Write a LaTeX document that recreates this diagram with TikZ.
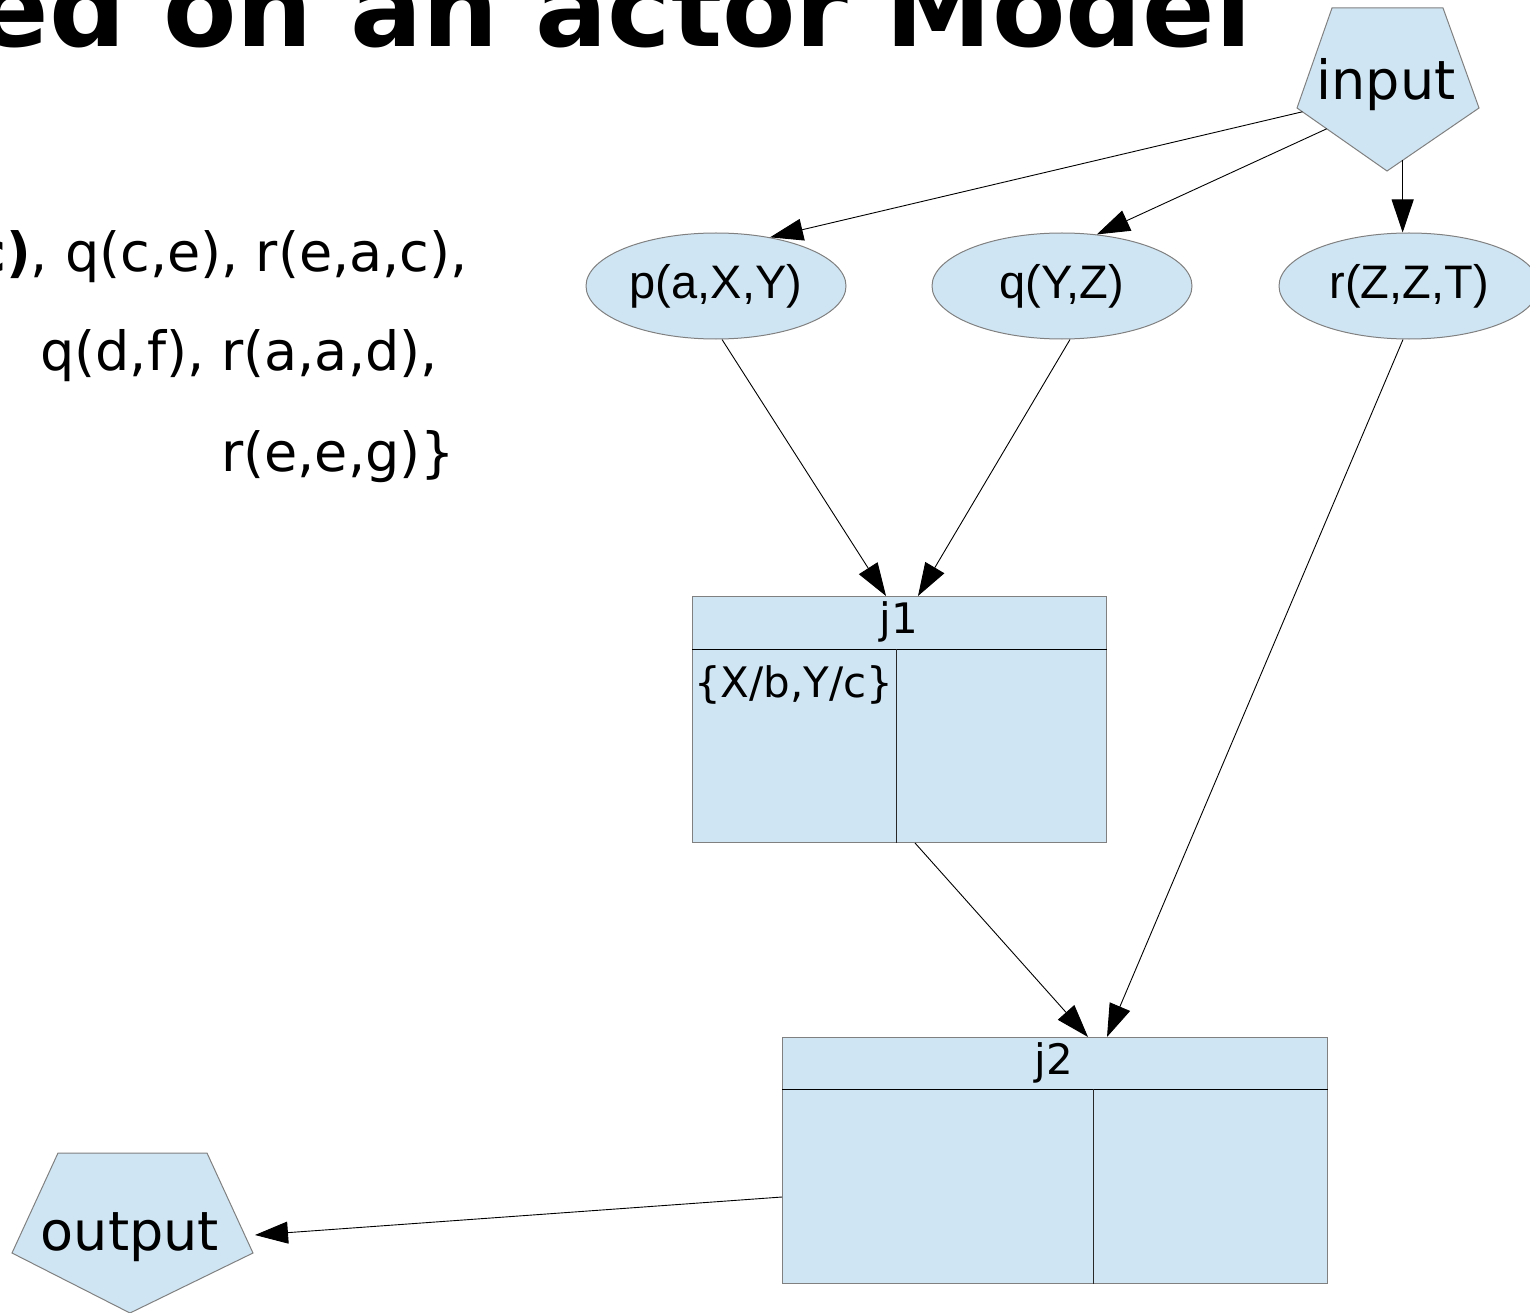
\documentclass[tikz,border=0pt]{standalone}
\usepackage{fontspec}
\setmainfont{DejaVu Sans}
\newfontfamily\arialfont{Liberation Sans}
\usetikzlibrary{arrows.meta,calc,shapes.geometric}
\definecolor{nodefill}{RGB}{207,229,243}
\definecolor{nodeline}{RGB}{128,128,128}
\definecolor{innerline}{RGB}{40,40,40}
\begin{document}
\begin{tikzpicture}[x=1pt,y=-1pt,
  shapefill/.style={fill=nodefill,draw=nodeline,line width=1pt},
  ell/.style={ellipse,shapefill,minimum width=260pt,minimum height=106pt,inner sep=0pt,
    font=\arialfont\fontsize{47}{50}\selectfont},
  tbl/.style={rectangle,shapefill,anchor=north west,inner sep=0pt},
  txt/.style={inner sep=0pt,font=\fontsize{54}{60}\selectfont},
  celltxt/.style={inner sep=0pt,font=\fontsize{42}{46}\selectfont},
  sepline/.style={draw=innerline,line width=1pt},
  conn/.style={line width=0.9pt,-{Triangle[length=33pt,width=22pt]}}
]
\useasboundingbox (0,0) rectangle (1530,1313);
\clip (0,0) rectangle (1530,1313);

% title (cut off at the top)
\node[inner sep=0pt,anchor=base east,font=\bfseries\fontsize{107}{120}\selectfont] (title) at (1252,47) {ed on an actor Model};

% left text
\node[txt,anchor=base east] (t1) at (468,272) {\textbf{c)}, q(c,e), r(e,a,c),};
\node[txt,anchor=base west] (t2) at (40,370) {q(d,f), r(a,a,d),};
\node[txt,anchor=base west] (t3) at (221,471) {r(e,e,g)\}};

% input pentagon
\coordinate (inTL) at (1332,8);
\coordinate (inTR) at (1443,8);
\coordinate (inR) at (1479,108);
\coordinate (inB) at (1387,171);
\coordinate (inL) at (1297,108);
\filldraw[shapefill] (inTL) -- (inTR) -- (inR) -- (inB) -- (inL) -- cycle;
\node[txt,anchor=base] (inp) at (1386,100) {input};

% output pentagon
\coordinate (outTL) at (58,1153);
\coordinate (outTR) at (207,1153);
\coordinate (outR) at (253,1253);
\coordinate (outB) at (130,1313);
\coordinate (outL) at (12,1253);
\filldraw[shapefill] (outTL) -- (outTR) -- (outR) -- (outB) -- (outL) -- cycle;
\node[txt,anchor=base] (outp) at (130,1250) {output};

% ellipses
\node[ell] (p) at (716,286) {p(a,X,Y)};
\node[ell] (q) at (1062,286) {q(Y,Z)};
\node[ell] (r) at (1409,286) {r(Z,Z,T)};

% table j1
\node[tbl,minimum width=414pt,minimum height=246pt] (j1) at (692,596) {};
\draw[sepline,draw=black] ([yshift=-53pt]j1.north west) -- ([yshift=-53pt]j1.north east);
\draw[sepline] ([xshift=204pt,yshift=-53pt]j1.north west) -- ([xshift=204pt]j1.south west);
\node[celltxt,anchor=base] (j1h) at (899,633) {j1};
\node[celltxt,anchor=base west] (j1c) at (694,697) {\{X/b,Y/c\}};

% table j2
\node[tbl,minimum width=545pt,minimum height=246pt] (j2) at (782,1037) {};
\draw[sepline,draw=black] ([yshift=-52pt]j2.north west) -- ([yshift=-52pt]j2.north east);
\draw[sepline] ([xshift=311pt,yshift=-52pt]j2.north west) -- ([xshift=311pt]j2.south west);
\node[celltxt,anchor=base] (j2h) at (1054,1074) {j2};

% connector end points on the pentagons
\coordinate (inA) at ($(inL)!0.06!(inB)$);
\coordinate (inQ) at ($(inL)!0.33!(inB)$);
\coordinate (inC) at ($(inB)!0.17!(inR)$);
\coordinate (outT) at ($(outR)+(2,-18)$);

% connectors
\draw[conn] (inA) -- (p.42);
\draw[conn] (inQ) -- (q.56);
\draw[conn] (inC) -- (inC |- r.north);
\draw[conn] ([xshift=6pt]p.south) -- ([xshift=194pt]j1.north west);
\draw[conn] ([xshift=8pt]q.south) -- ([xshift=226pt]j1.north west);
\draw[conn] ([xshift=-6pt]r.south) -- ([xshift=325pt]j2.north west);
\draw[conn] ([xshift=223pt]j1.south west) -- ([xshift=306pt]j2.north west);
\draw[conn] ([yshift=-160pt]j2.north west) -- (outT);
\end{tikzpicture}
\end{document}
